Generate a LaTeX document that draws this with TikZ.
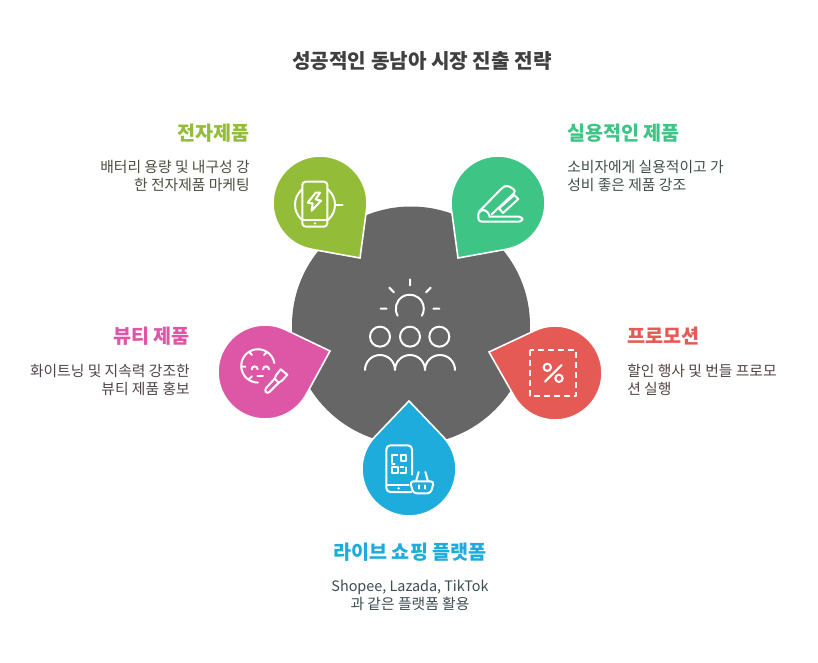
\documentclass[tikz,border=0pt]{standalone}
\usepackage{fontspec}
\setmainfont{Noto Sans CJK KR}
\definecolor{cgray}{HTML}{666666}
\definecolor{cgreen}{HTML}{93BD38}
\definecolor{cteal}{HTML}{3EC585}
\definecolor{cpink}{HTML}{DE57A7}
\definecolor{cred}{HTML}{E55A54}
\definecolor{cblue}{HTML}{1EACDD}
\definecolor{ctitle}{HTML}{404040}
\tikzset{
  titletext/.style={font=\fontsize{15.1}{18}\selectfont\bfseries,text=ctitle,inner sep=0pt},
  headtext/.style={font=\fontsize{14.7}{18}\selectfont\bfseries,inner sep=0pt},
  bodytext/.style={font=\fontsize{11.1}{13.5}\selectfont,inner sep=0pt},
  ico/.style={draw=white,line width=1.5pt,line cap=round,line join=round},
}
% colour, centre x, y, tip x, y
\newcommand{\dropshape}[5]{%
  \pgfmathsetmacro{\da}{atan2(#5-#3,#4-#2)}%
  \pgfmathsetmacro{\dd}{veclen(#4-#2,#5-#3)}%
  \pgfmathsetmacro{\db}{acos(47/\dd)}%
  \pgfmathsetmacro{\ds}{\da+\db}%
  \pgfmathsetmacro{\dl}{360-2*\db}%
  \pgfmathsetmacro{\px}{#2+47*cos(\ds)}%
  \pgfmathsetmacro{\py}{#3+47*sin(\ds)}%
  \draw[fill=#1,draw=white,line width=1.2pt,line join=miter]
    (#4,#5) -- (\px,\py) arc[start angle=\ds,delta angle=\dl,radius=47] -- cycle;
}
\begin{document}
\begin{tikzpicture}[x=1pt,y=1pt,cm={.75,0,0,-.75,(0,0)}]
\useasboundingbox (0,0) rectangle (818,662);
\fill[white] (0,0) rectangle (818,662);
\fill[cgray] (411,325.5) circle[radius=119];
\dropshape{cgreen}{320}{203}{360}{258}
\dropshape{cteal}{498}{203}{458}{258}
\dropshape{cpink}{265}{372}{330}{351}
\dropshape{cred}{555}{373}{489}{352}
\dropshape{cblue}{409}{469}{409}{401}

% centre icon
\begin{scope}[shift={(350,270)},scale=1/3]
  \draw[ico] (143,137) arc[start angle=150,delta angle=240,radius=42];
  \draw[ico] (180,28)--(180,46) (118,53)--(132,67) (242,53)--(228,67) (92,116)--(110,116) (250,116)--(268,116);
  \draw[ico] (90,200) circle[radius=30] (180,200) circle[radius=30] (268,200) circle[radius=30];
  \draw[ico] (45,300) arc[start angle=180,delta angle=180,radius=45]
             arc[start angle=180,delta angle=180,radius=45]
             arc[start angle=180,delta angle=180,radius=45];
\end{scope}

% green icon: phone with wireless charger
\begin{scope}[shift={(285,170)},scale=1/3]
  \draw[ico] (90,104) circle[radius=60];
  \draw[ico] (150,104)--(173,104);
  \draw[ico,fill=cgreen,rounded corners=2.5pt] (52,35) rectangle (127,170);
  \draw[ico] (52,150)--(127,150);
  \fill[white] (90,160) circle[radius=4];
  \draw[ico] (92,68)--(68,98)--(83,100)--(80,122)--(108,92)--(92,88)--(105,68)--cycle;
\end{scope}

% teal icon: stapler
\begin{scope}[shift={(465,175)},scale=1/3]
  \draw[ico] (40,116) .. controls (46,100) and (68,100) .. (74,125);
  \draw[ico,rounded corners=2.5pt] (40,116)--(40,140)--(172,140)--(172,125)--(74,125);
  \draw[ico,rounded corners=2.5pt] (42,110)--(112,38)--(126,30)--(154,48)--(80,118);
  \draw[ico] (102,100)--(148,60)--(160,72)--(114,114)--cycle;
\end{scope}

% pink icon: face and brush
\begin{scope}[shift={(232,340)},scale=1/3]
  \draw[ico] (127,69) arc[start angle=-10,delta angle=-260,radius=50];
  \draw[ico] (52,36)--(60,45) (104,36)--(96,45) (28,80)--(40,80) (50,118)--(60,109);
  \draw[ico] (59,88) arc[start angle=180,delta angle=180,radius=9];
  \draw[ico] (93,88) arc[start angle=180,delta angle=180,radius=9];
  \draw[ico] (76,107)--(93,107);
  \draw[ico,rounded corners=2pt] (128,116)--(97,150)--(106,162)--(140,128);
  \draw[ico] (128,116)--(132,106)--(146,88)--(166,104)--(150,122)--(140,128)--cycle;
\end{scope}

% red icon: dashed frame and percent
\begin{scope}[shift={(350,270)},scale=1/3]
  \draw[ico,dash pattern=on 4.5pt off 3pt,line cap=butt] (540,240) rectangle (678,378);
  \draw[ico] (585,335)--(635,285);
  \draw[ico] (592,292) circle[radius=11] (627,325) circle[radius=11];
\end{scope}

% blue icon: phone with QR code and basket
\begin{scope}[shift={(378,438)},scale=1/3]
  \draw[ico,rounded corners=3pt] (100,162)--(25,162)--(25,22)--(102,22)--(102,110);
  \draw[ico] (25,140)--(92,140);
  \fill[white] (62,151) circle[radius=4];
  \draw[ico] (42,88) rectangle (60,106) (68,52) rectangle (85,70);
  \draw[ico] (42,72)--(42,52)--(58,52) (42,78)--(50,78);
  \draw[ico] (68,105)--(85,105)--(85,88) (68,88)--(76,88);
  \draw[ico,fill=cblue,rounded corners=2.5pt] (96,130)--(168,130)--(158,166)--(106,166)--cycle;
  \draw[ico] (114,130)--(122,102) (150,130)--(142,102);
  \draw[ico] (122,142)--(122,152) (142,142)--(142,152);
\end{scope}

% texts
\node[titletext] (title) at (422,60.5) {성공적인 동남아 시장 진출 전략};

\node[headtext,text=cgreen,anchor=east] (h1) at (250,133.5) {전자제품};
\node[bodytext,text=ctitle!88!cgreen,anchor=east,align=right] (b1) at (250,175.5) {배터리 용량 및 내구성 강\\한 전자제품 마케팅};

\node[headtext,text=cteal,anchor=west] (h2) at (567,133.5) {실용적인 제품};
\node[bodytext,text=ctitle!88!cteal,anchor=west,align=left] (b2) at (567,175.5) {소비자에게 실용적이고 가\\성비 좋은 제품 강조};

\node[headtext,text=cpink,anchor=east] (h3) at (190,336.5) {뷰티 제품};
\node[bodytext,text=ctitle!88!cpink,anchor=east,align=right] (b3) at (190,379.5) {화이트닝 및 지속력 강조한\\뷰티 제품 홍보};

\node[headtext,text=cred,anchor=west] (h4) at (627,336.5) {프로모션};
\node[bodytext,text=ctitle!88!cred,anchor=west,align=left] (b4) at (627,379.5) {할인 행사 및 번들 프로모\\션 실행};

\node[headtext,text=cblue] (h5) at (410,552.5) {라이브 쇼핑 플랫폼};
\node[bodytext,text=ctitle!88!cblue,align=center] (b5) at (410,595.5) {\fontsize{10.8}{13.5}\selectfont Shopee, Lazada, TikTok\\과 같은 플랫폼 활용};
\end{tikzpicture}
\end{document}
